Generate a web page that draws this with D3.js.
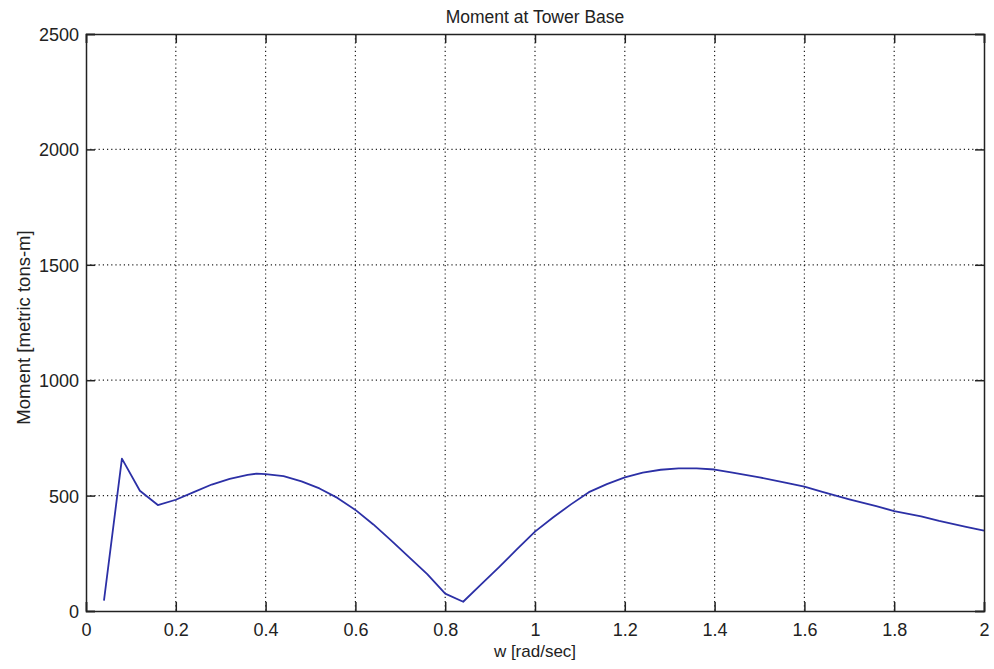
<!DOCTYPE html>
<html>
<head>
<meta charset="utf-8">
<script src="https://cdn.jsdelivr.net/npm/d3@7"></script>
<style>
  html, body { margin: 0; padding: 0; background: #fff; }
  svg { display: block; font-family: "Liberation Sans", Arial, sans-serif; }
</style>
</head>
<body>
<svg id="chart" width="994" height="669"></svg>
<script>
// Frequency (rad/sec) and base moment (metric tons-m)
const omega = [0.04, 0.08, 0.12, 0.16, 0.20, 0.24, 0.28, 0.32, 0.36, 0.38, 0.40, 0.44,
  0.48, 0.52, 0.56, 0.60, 0.64, 0.68, 0.72, 0.76, 0.80, 0.84, 0.88, 0.92, 0.96, 1.00,
  1.04, 1.08, 1.12, 1.16, 1.20, 1.24, 1.28, 1.32, 1.36, 1.40, 1.44, 1.50, 1.56, 1.60,
  1.64, 1.70, 1.76, 1.80, 1.86, 1.90, 1.96, 2.00];
const moment = [45, 660, 521, 459, 482, 515, 548, 572, 590, 595, 593, 584,
  562, 531, 490, 438, 375, 305, 232, 160, 75, 40, 115, 190, 268, 344,
  405, 462, 515, 550, 579, 600, 612, 618, 618, 613, 600, 579, 555, 539,
  516, 484, 454, 433, 410, 390, 365, 348];

const xTicks = [0, 0.2, 0.4, 0.6, 0.8, 1, 1.2, 1.4, 1.6, 1.8, 2];
const yTicks = [0, 500, 1000, 1500, 2000, 2500];

const titleText = "Moment at Tower Base";
const xLabelText = "w [rad/sec]";
const yLabelText = "Moment [metric tons-m]";

const margin = { left: 86, right: 10, top: 34, bottom: 58 };
const W = 994, H = 669;
const svg = d3.select("#chart");

const x = d3.scaleLinear().domain([0, 2]).range([margin.left, W - margin.right]);
const y = d3.scaleLinear().domain([0, 2500]).range([H - margin.bottom, margin.top]);

const x0 = x.range()[0], x1 = x.range()[1];
const y0 = y.range()[0], y1 = y.range()[1];

// Dotted grid
const grid = svg.append("g").attr("stroke", "#222").attr("stroke-width", 1.2)
  .attr("stroke-dasharray", "1.2,3");
grid.selectAll("line.vx").data(xTicks.slice(1, -1)).join("line")
  .attr("x1", d => x(d)).attr("x2", d => x(d)).attr("y1", y1).attr("y2", y0);
grid.selectAll("line.hy").data(yTicks.slice(1, -1)).join("line")
  .attr("x1", x0).attr("x2", x1).attr("y1", d => y(d)).attr("y2", d => y(d));

// Data line
const line = d3.line().x((d, i) => x(omega[i])).y(d => y(d));
svg.append("path").datum(moment)
  .attr("d", line)
  .attr("fill", "none")
  .attr("stroke", "#2c30a6")
  .attr("stroke-width", 1.8)
  .attr("stroke-linejoin", "round");

// Axes: ticks pointing inward on all four sides
const tickLen = 9;
const fontSize = 18;
const axisColor = "#222";

const axBottom = svg.append("g").attr("transform", `translate(0,${y0})`)
  .call(d3.axisBottom(x).tickValues(xTicks).tickSize(-tickLen).tickPadding(12)
    .tickFormat(d => String(d)));
const axTop = svg.append("g").attr("transform", `translate(0,${y1})`)
  .call(d3.axisTop(x).tickValues(xTicks).tickSize(-tickLen).tickFormat(""));
const axLeft = svg.append("g").attr("transform", `translate(${x0},0)`)
  .call(d3.axisLeft(y).tickValues(yTicks).tickSize(-tickLen).tickPadding(7)
    .tickFormat(d => String(d)));
const axRight = svg.append("g").attr("transform", `translate(${x1},0)`)
  .call(d3.axisRight(y).tickValues(yTicks).tickSize(-tickLen).tickFormat(""));

[axBottom, axTop, axLeft, axRight].forEach(g => {
  g.select(".domain").attr("stroke", axisColor).attr("stroke-width", 1.5);
  g.selectAll(".tick line").attr("stroke", axisColor).attr("stroke-width", 1.5);
  g.selectAll(".tick text").attr("fill", "#222").attr("font-size", fontSize)
    .attr("font-family", "'Liberation Sans', Arial, sans-serif");
});
axBottom.selectAll(".tick text").attr("dy", "0.72em");
axLeft.selectAll(".tick text").attr("dy", "0.36em");

// Title and axis labels
svg.append("text").attr("x", (x0 + x1) / 2).attr("y", 23)
  .attr("text-anchor", "middle").attr("font-size", 17.5).attr("fill", "#222")
  .text(titleText);
svg.append("text").attr("x", (x0 + x1) / 2).attr("y", 657)
  .attr("text-anchor", "middle").attr("font-size", 17).attr("fill", "#222")
  .text(xLabelText);
svg.append("text")
  .attr("transform", `translate(30,${(y0 + y1) / 2 + 5}) rotate(-90)`)
  .attr("text-anchor", "middle").attr("font-size", 18.5).attr("fill", "#222")
  .text(yLabelText);
</script>
</body>
</html>
